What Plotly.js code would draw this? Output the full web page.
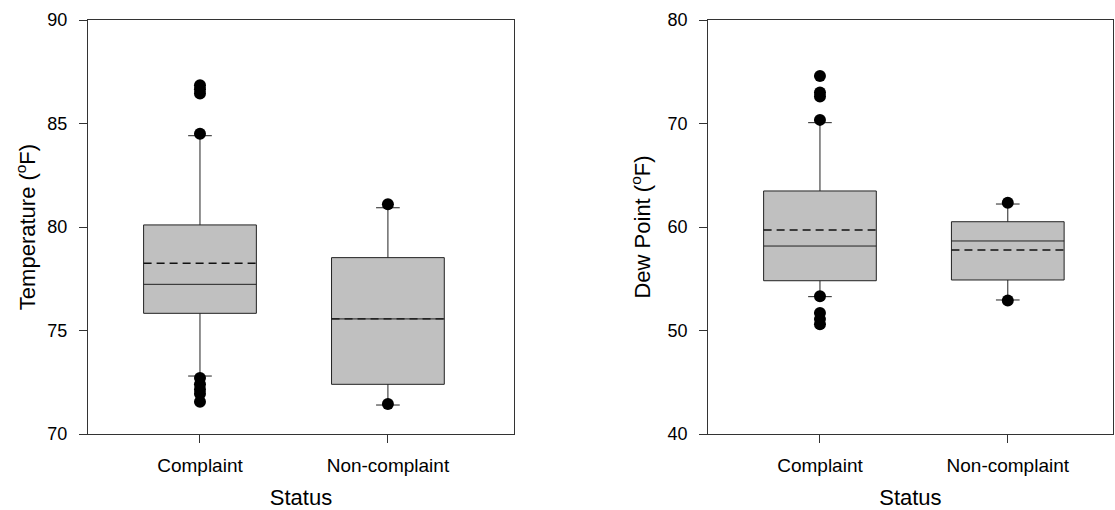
<!DOCTYPE html>
<html><head><meta charset="utf-8">
<script src="https://cdn.plot.ly/plotly-3.0.1.min.js"></script>
<style>body{margin:0;background:#fff}#c{width:1115px;height:510px}</style>
</head><body><div id="c"></div>
<script>
const categories = ["Complaint", "Non-complaint"];
// Temperature (°F)
const tempQ1 = [75.83, 72.40];
const tempMedian = [77.23, 75.56];
const tempQ3 = [80.10, 78.52];
const tempLow = [72.80, 71.40];
const tempHigh = [84.41, 80.93];
const tempMean = [78.25, 75.56];
const tempOutCat = [0, 0, 0, 0, 0, 0, 0, 0, 0, 1, 1];
const tempOutVal = [86.85, 86.65, 86.45, 84.5, 72.7, 72.4, 72.15, 71.95, 71.56, 81.1, 71.45];
// Dew point (°F)
const dewQ1 = [54.81, 54.88];
const dewMedian = [58.16, 58.65];
const dewQ3 = [63.48, 60.51];
const dewLow = [53.27, 52.95];
const dewHigh = [70.08, 62.22];
const dewMean = [59.71, 57.78];
const dewOutCat = [0, 0, 0, 0, 0, 0, 0, 0, 1, 1];
const dewOutVal = [74.6, 73.0, 72.6, 70.35, 53.3, 51.7, 51.1, 50.6, 62.35, 52.9];

const BOXW = 0.6;
const font = "Arial, 'Liberation Sans', sans-serif";
function boxTrace(q1, med, q3, lo, hi, xa, ya) {
  return {
    type: 'box', x: [0, 1], q1: q1, median: med, q3: q3,
    lowerfence: lo, upperfence: hi,
    boxpoints: false, width: BOXW, whiskerwidth: 0.21,
    fillcolor: '#c0c0c0', line: {color: '#222', width: 1},
    xaxis: xa, yaxis: ya, showlegend: false, hoverinfo: 'skip'
  };
}
function meanTraces(mean, xa, ya) {
  return mean.map((m, i) => ({
    type: 'scatter', mode: 'lines', x: [i - BOXW / 2, i + BOXW / 2], y: [m, m],
    line: {color: '#111', width: 1.3, dash: '8px,5px'}, xaxis: xa, yaxis: ya,
    showlegend: false, hoverinfo: 'skip'
  }));
}
function outTrace(cat, val, xa, ya) {
  return {type: 'scatter', mode: 'markers', x: cat, y: val,
    marker: {color: '#000', size: 12}, xaxis: xa, yaxis: ya,
    showlegend: false, hoverinfo: 'skip'};
}
const data = [
  boxTrace(tempQ1, tempMedian, tempQ3, tempLow, tempHigh, 'x', 'y'),
  ...meanTraces(tempMean, 'x', 'y'),
  outTrace(tempOutCat, tempOutVal, 'x', 'y'),
  boxTrace(dewQ1, dewMedian, dewQ3, dewLow, dewHigh, 'x2', 'y2'),
  ...meanTraces(dewMean, 'x2', 'y2'),
  outTrace(dewOutCat, dewOutVal, 'x2', 'y2')
];
const xCommon = {
  tickvals: [0, 1], ticktext: categories, ticks: 'outside', ticklen: 8,
  tickcolor: '#333', showline: true, linecolor: '#333', linewidth: 1, mirror: true,
  showgrid: false, zeroline: false, ticklabelstandoff: 6,
  tickfont: {size: 19, family: font, color: '#000'},
  title: {text: 'Status', font: {size: 22, family: font, color: '#000'}, standoff: 14}
};
const yCommon = {
  ticks: 'outside', ticklen: 8, tickcolor: '#333', showline: true, linecolor: '#333',
  linewidth: 1, mirror: true, showgrid: false, zeroline: false, ticklabelstandoff: 8,
  tickfont: {size: 18, family: font, color: '#000'}
};
const layout = {
  width: 1115, height: 510, paper_bgcolor: '#fff', plot_bgcolor: '#fff',
  margin: {l: 0, r: 0, t: 20, b: 76},
  boxmode: 'overlay',
  xaxis: Object.assign({}, xCommon, {domain: [0.0789, 0.461], range: [-0.596, 1.671]}),
  xaxis2: Object.assign({}, xCommon, {domain: [0.635, 0.998], range: [-0.596, 1.559], anchor: 'y2'}),
  yaxis: Object.assign({}, yCommon, {range: [70, 90], dtick: 5, tick0: 70,
    title: {text: 'Temperature (<sup>o</sup>F)', font: {size: 22, family: font, color: '#000'}, standoff: 5}}),
  yaxis2: Object.assign({}, yCommon, {range: [40, 80], dtick: 10, tick0: 40, anchor: 'x2',
    title: {text: 'Dew Point (<sup>o</sup>F)', font: {size: 22, family: font, color: '#000'}, standoff: 10}})
};
Plotly.newPlot('c', data, layout, {staticPlot: true});
</script></body></html>
